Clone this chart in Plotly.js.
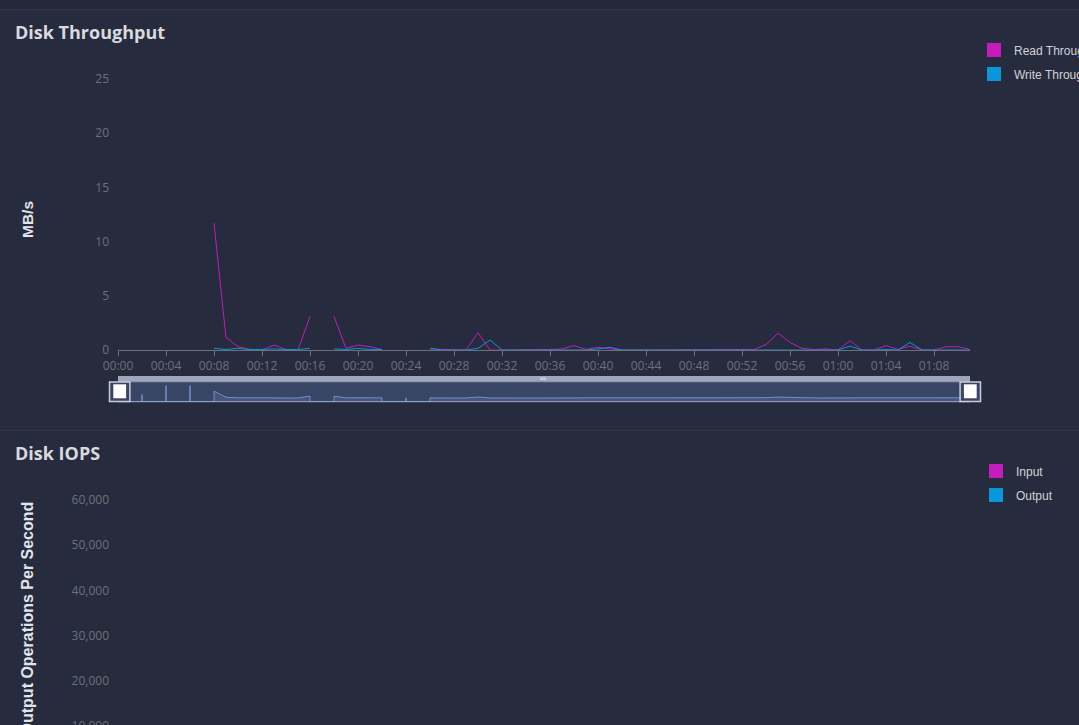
<!DOCTYPE html>
<html><head><meta charset="utf-8">
<script src="https://cdn.plot.ly/plotly-3.0.1.min.js"></script>
<style>
html,body{margin:0;padding:0;width:1079px;height:725px;overflow:hidden;background:#262b3d;}
#topband{position:absolute;left:0;top:0;width:1079px;height:9px;background:#23283a;}
.sep{position:absolute;left:0;width:1079px;height:1px;background:#2f3447;}
#c1{position:absolute;left:0;top:10px;width:1079px;height:420px;}
#c2{position:absolute;left:0;top:431px;width:1079px;height:420px;}
</style></head><body>
<div id="topband"></div><div class="sep" style="top:9px"></div><div class="sep" style="top:430px"></div>
<div id="c1"></div><div id="c2"></div>
<script>
// ---- data ----
const minutes = ["00:00","00:01","00:02","00:03","00:04","00:05","00:06","00:07","00:08","00:09",
"00:10","00:11","00:12","00:13","00:14","00:15","00:16","00:17","00:18","00:19",
"00:20","00:21","00:22","00:23","00:24","00:25","00:26","00:27","00:28","00:29",
"00:30","00:31","00:32","00:33","00:34","00:35","00:36","00:37","00:38","00:39",
"00:40","00:41","00:42","00:43","00:44","00:45","00:46","00:47","00:48","00:49",
"00:50","00:51","00:52","00:53","00:54","00:55","00:56","00:57","00:58","00:59",
"01:00","01:01","01:02","01:03","01:04","01:05","01:06","01:07","01:08","01:09",
"01:10","01:11"];

const readThroughput = [null,null,6,null,21.5,null,21.5,null,11.7,1.15,
0.3,0.05,0,0.45,0.05,0,3.1,null,3.1,0.15,
0.45,0.3,0.05,null,0,null,0.1,0.05,0,0,
1.6,0,0,0,0,0.05,0.05,0.1,0.4,0.05,
0.25,0.1,0,0,0,0,0,0,0,0,
0,0,0,0.05,0.5,1.55,0.7,0.15,0.05,0.1,
0,0.85,0,0,0.4,0.05,0.35,0,0,0.3,
0.3,0.05];

const writeThroughput = [null,null,null,null,null,null,null,null,0.15,0.05,
0.15,0.05,0.05,0.1,0.05,0.05,0.15,null,0.1,0.05,
0.15,0.05,0.05,null,0,null,0.15,0,0,0,
0.15,0.92,0,0,0,0,0,0,0.05,0,
0.1,0.25,0,0,0,0,0,0,0,0,
0,0,0,0,0,0,0,0,0,0.05,
0,0.35,0,0,0.05,0,0.7,0,0,0,
0.05,0];

const iopsInput = [null,null,14000,null,56000,null,55000,null,8200,900,
250,60,20,330,50,10,2300,null,2200,120,
330,220,40,null,10,null,80,40,10,10,
1200,20,10,10,10,40,40,80,300,40,
180,80,10,10,10,10,10,10,10,10,
10,10,10,40,380,1150,520,110,40,80,
10,620,10,10,300,40,260,10,10,220,
220,40];

const iopsOutput = [null,null,null,null,null,null,null,null,120,40,
120,40,40,80,40,40,120,null,80,40,
120,40,40,null,10,null,120,10,10,10,
120,700,10,10,10,10,10,10,40,10,
80,190,10,10,10,10,10,10,10,10,
10,10,10,10,10,10,10,10,10,40,
10,260,10,10,40,10,520,10,10,10,
40,10];

const throughputNames = ["Read Throughput","Write Throughput"];
const iopsNames = ["Input","Output"];
const seriesColors = ["#c41cbd","#0996db"];

// ---- rendering ----
const BG = "#262b3d";
const times = minutes.map(m => "2024-01-01 " + m);
const H = 420, T = 69, B = 28, L = 118, PW = 961;
const plotH = H - T - B;                  // 323
const py = d => (H - B - d) / plotH;      // div y pixel -> paper y
const px = d => (d - L) / PW;             // page x pixel -> paper x

function shadow(vals) {
  const nn = vals.filter(v => v != null);
  const mx = Math.max(...nn), mn = Math.min(...nn);
  const off = (mx - mn) * 0.3, lo = mn - off, hi = mx + off;
  const xs = [], ys = [];
  let lastEmpty = false;
  vals.forEach((v, i) => {
    const empty = v == null;
    if (empty && !lastEmpty && i > 0) { xs.push(xs[xs.length - 1]); ys.push(0); }
    else if (!empty && lastEmpty) { xs.push(times[i]); ys.push(0); }
    xs.push(times[i]); ys.push(empty ? 0 : v - lo);
    lastEmpty = empty;
  });
  return {xs, ys, top: hi - lo};
}

function build(id, cfg) {
  const dom = [0, 852 / PW];
  const traces = [];
  cfg.series.forEach((s, i) => {
    traces.push({x: times, y: s, type: "scatter", mode: "lines", xaxis: "x", yaxis: "y",
      line: {color: seriesColors[i], width: 1}, showlegend: false, connectgaps: false, hoverinfo: "skip"});
  });
  const sh = shadow(cfg.series[0]);
  traces.push({x: sh.xs, y: sh.ys, type: "scatter", mode: "lines", xaxis: "x2", yaxis: "y2",
    line: {color: "rgba(143,176,247,0.65)", width: 1}, fill: "tozeroy",
    fillcolor: "rgba(143,176,247,0.16)", showlegend: false, hoverinfo: "skip"});
  cfg.names.forEach((n, i) => {
    traces.push({x: [null], y: [null], type: "scatter", mode: "markers", name: n,
      legendgroup: "g" + i, marker: {symbol: "square", size: 14, color: seriesColors[i], line: {width: 0}},
      xaxis: "x", yaxis: "y"});
  });
  const tf = {family: "Open Sans", size: 12, color: "#6e7079"};
  const shapes = [
    {type: "rect", xref: "x", x0: times[0], x1: times[times.length - 1], yref: "paper",
      y0: py(391.7), y1: py(371.7), fillcolor: "#394564", line: {color: "#a3abc0", width: 1}, layer: "below"},
    {type: "rect", xref: "x", x0: times[0], x1: times[times.length - 1], yref: "paper",
      y0: py(371.3), y1: py(366), fillcolor: "#9ea6b9", line: {width: 0}, layer: "above"},
  ];
  [-2, 0, 2].forEach(o => shapes.push({type: "line", xref: "paper", xsizemode: "pixel", xanchor: px(543),
    x0: o, x1: o, yref: "paper", y0: py(370), y1: py(367.5), line: {color: "#eef0f5", width: 1}, layer: "above"}));
  [119.7, 970.3].forEach(c => {
    shapes.push({type: "rect", xref: "paper", xsizemode: "pixel", xanchor: px(c), x0: -10.2, x1: 10.2, yref: "paper",
      y0: py(391.5), y1: py(372), fillcolor: "#3b4464", line: {color: "#c9ced9", width: 1.5}, layer: "above"});
    shapes.push({type: "rect", xref: "paper", xsizemode: "pixel", xanchor: px(c), x0: -6.4, x1: 6.4, yref: "paper",
      y0: py(388.3), y1: py(374.3), fillcolor: "#ffffff", line: {width: 0}, layer: "above"});
  });
  const layout = {
    width: 1079, height: H, paper_bgcolor: BG, plot_bgcolor: "rgba(0,0,0,0)",
    margin: {l: L, r: 0, t: T, b: B, autoexpand: false},
    showlegend: true,
    title: {text: cfg.title, font: {family: "Open Sans", size: 18, color: "#d9dadf", weight: "bold"},
      xref: "container", yref: "container", x: 15 / 1079, xanchor: "left", y: 1 - 23 / H, yanchor: "middle"},
    xaxis: {type: "date", domain: dom, anchor: "y", range: [times[0], times[times.length - 1]],
      tickformat: "%H:%M", dtick: 240000, tick0: times[0], showgrid: false, zeroline: false,
      showline: true, linecolor: "#6e7079", linewidth: 1, ticks: "outside", ticklen: 5,
      tickcolor: "#6e7079", tickfont: tf, fixedrange: true},
    yaxis: {domain: [py(340), 1], anchor: "x", range: cfg.yRange, dtick: cfg.dtick, tickformat: cfg.tickformat,
      showgrid: false, zeroline: false, showline: false, ticks: "", ticklabelstandoff: 8, tickfont: tf,
      fixedrange: true},
    xaxis2: {domain: dom, anchor: "y2", range: [times[0], times[times.length - 1]], type: "date", visible: false, fixedrange: true},
    yaxis2: {domain: [py(391.7), py(371.7)], anchor: "x2", range: [0, sh.top], visible: false, fixedrange: true},
    legend: {x: cfg.legendX, xanchor: "left", y: py(25.5), yanchor: "top", orientation: "v",
      font: {family: "Liberation Sans", size: 12, color: "#d2d3d8"}, bgcolor: "rgba(0,0,0,0)",
      borderwidth: 0, tracegroupgap: 5},
    annotations: [{text: cfg.ytitle, textangle: -90, showarrow: false, xref: "paper", yref: "paper",
      x: px(27), xanchor: "center", y: py(210), yanchor: "middle",
      font: {family: "Liberation Sans", size: cfg.ytitleSize, color: "#e4e5ea", weight: "bold"}}],
    shapes: shapes
  };
  Plotly.newPlot(id, traces, layout, {staticPlot: true, displayModeBar: false});
}

build("c1", {title: "Disk Throughput", ytitle: "MB/s", ytitleSize: 15.5, series: [readThroughput, writeThroughput],
  names: throughputNames, yRange: [0, 25], dtick: 5, tickformat: "",
  legendX: px(974)});
build("c2", {title: "Disk IOPS", ytitle: "Input/Output Operations Per Second", ytitleSize: 16,
  series: [iopsInput, iopsOutput],
  names: iopsNames, yRange: [0, 60000], dtick: 10000, tickformat: ",d",
  legendX: px(976)});
</script>
</body></html>
